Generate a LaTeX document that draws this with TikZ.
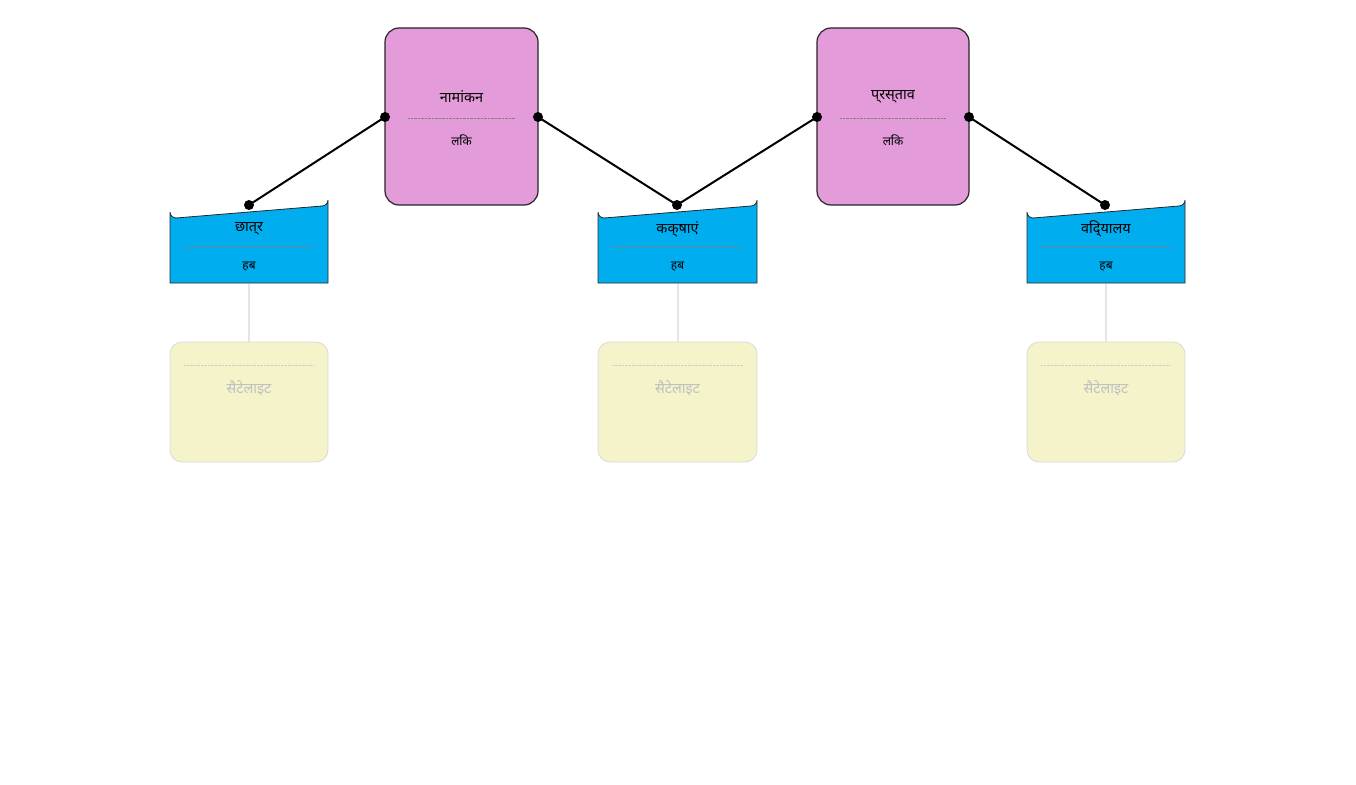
\documentclass[tikz,border=0pt]{standalone}
\usepackage{fontspec}
\setmainfont{Noto Sans}
\begin{document}
\begin{tikzpicture}[x=1pt,y=-1pt,
  link/.style={draw=black!85,line width=1.2pt,fill=linkc,rounded corners=14pt},
  hub/.style={draw=black!85,line width=0.8pt,fill=hubc},
  sat/.style={draw=black!15,line width=0.8pt,fill=satc,rounded corners=12pt},
  sep/.style={densely dotted,black!50,line width=0.4pt},
  con/.style={line width=2pt,black},
  dot/.style={circle,fill=black,inner sep=0pt,minimum size=10pt},
  ttl/.style={font=\bfseries\Large},
  sub/.style={font=\large}]
\definecolor{linkc}{HTML}{E39BDA}
\definecolor{hubc}{HTML}{00AEEF}
\definecolor{satc}{HTML}{F4F3C9}
\useasboundingbox (0,0) rectangle (1356,784);
% link nodes
\foreach \n/\xa/\xb/\t in {l1/385/538/नामांकन, l2/817/969/प्रस्ताव}{
  \draw[link] (\xa,28) rectangle (\xb,205);
  \draw[sep] (\xa+23,118) -- (\xb-23,118);
  \node[ttl] (\n t) at ({(\xa+\xb)/2},97) {\t};
  \node[sub] (\n s) at ({(\xa+\xb)/2},140) {लिंक};
}
% hubs and satellites
\foreach \n/\xa/\xb/\t in {h1/170/328/छात्र, h2/598/757/कक्षाएं, h3/1027/1185/विद्यालय}{
  \draw[black!10,line width=2pt] ({(\xa+\xb)/2},284) -- ({(\xa+\xb)/2},342);
  \draw[hub] (\xa,283) -- (\xa,212) arc(180:90:6) -- (\xb-6,206) arc(90:0:6) -- (\xb,283) -- cycle;
  \draw[sep] (\xa+14,247) -- (\xb-14,247);
  \node[ttl] (\n t) at ({(\xa+\xb)/2},229) {\t};
  \node[sub] (\n s) at ({(\xa+\xb)/2},267) {हब};
  \draw[sat] (\xa,342) rectangle (\xb,462);
  \draw[sep,black!20] (\xa+14,365) -- (\xb-14,365);
  \node[ttl,black!25] (\n x) at ({(\xa+\xb)/2},388) {सैटेलाइट};
}
% connectors
\coordinate (a1) at (249,205); \coordinate (a2) at (385,117);
\coordinate (b1) at (538,117); \coordinate (b2) at (677,205);
\coordinate (c1) at (817,117);
\coordinate (d1) at (969,117); \coordinate (d2) at (1105,205);
\draw[con] (a1) -- (a2);
\draw[con] (b1) -- (b2);
\draw[con] (b2) -- (c1);
\draw[con] (d1) -- (d2);
\foreach \p in {a1,a2,b1,b2,c1,d1,d2}{\node[dot] at (\p) {};}
\end{tikzpicture}
\end{document}
